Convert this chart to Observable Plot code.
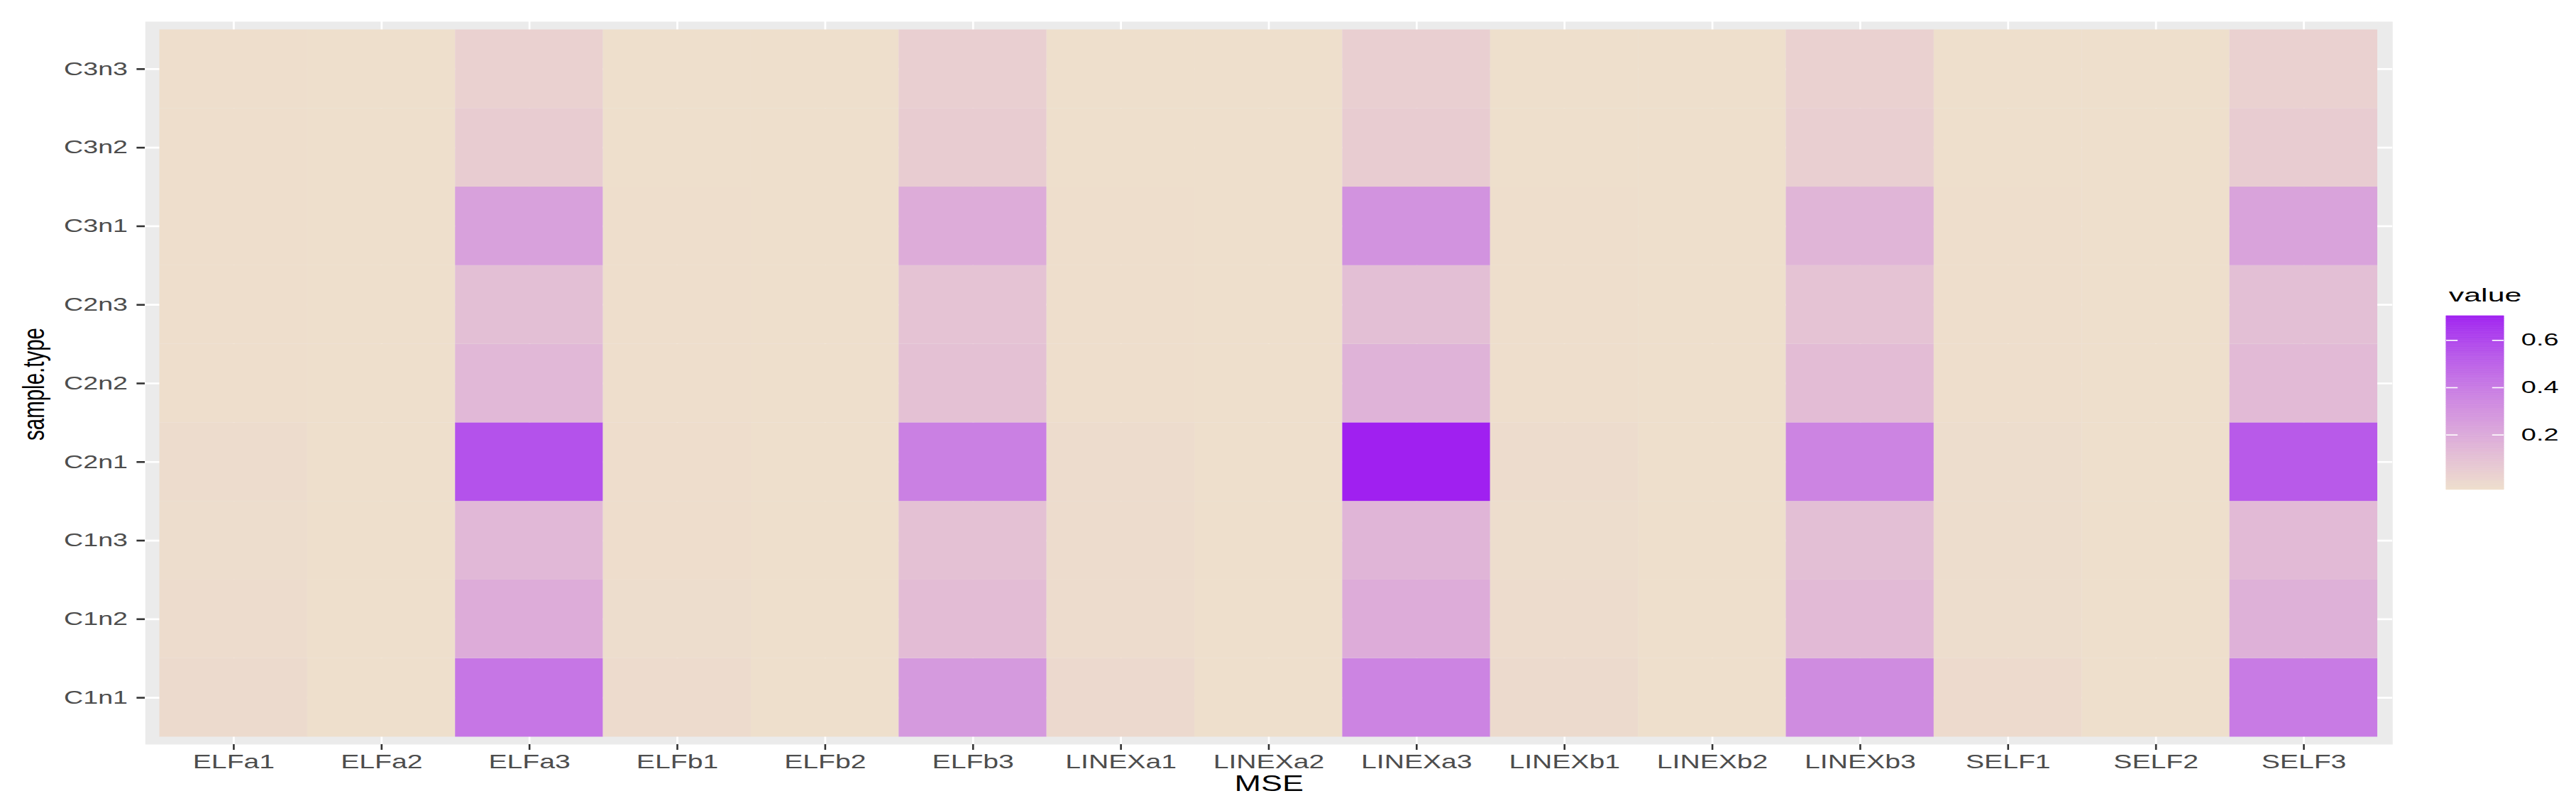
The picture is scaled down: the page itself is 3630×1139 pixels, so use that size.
<!DOCTYPE html>
<html><head><meta charset="utf-8">
<script src="https://cdn.jsdelivr.net/npm/d3@7"></script>
<script src="https://cdn.jsdelivr.net/npm/@observablehq/plot@0.6"></script>
<style>
html,body{margin:0;padding:0;background:#fff;}
#fig{position:relative;width:3630px;height:1139px;overflow:hidden;background:#fff;}
#main{position:absolute;left:0;top:0;transform-origin:0 0;}
#legend{position:absolute;left:3430px;top:380px;transform-origin:0 0;}
svg{overflow:visible;}
</style></head><body><div id="fig"><div id="main"></div><div id="legend"></div></div>
<script>
// ---- data ----
const methods = ["ELFa1","ELFa2","ELFa3","ELFb1","ELFb2","ELFb3","LINEXa1","LINEXa2","LINEXa3","LINEXb1","LINEXb2","LINEXb3","SELF1","SELF2","SELF3"];
const samples = ["C1n1","C1n2","C1n3","C2n1","C2n2","C2n3","C3n1","C3n2","C3n3"];
// values per method, in the order of `samples`
const ELFa1   = [-0.010,-0.020,-0.022,-0.018,-0.026,-0.027,-0.028,-0.029,-0.029];
const ELFa2   = [-0.030,-0.031,-0.031,-0.031,-0.032,-0.032,-0.032,-0.032,-0.032];
const ELFa3   = [0.42,0.19,0.14,0.56,0.14,0.11,0.24,0.05,0.03];
const ELFb1   = [-0.014,-0.022,-0.025,-0.025,-0.028,-0.028,-0.029,-0.030,-0.030];
const ELFb2   = [-0.032,-0.032,-0.032,-0.032,-0.032,-0.032,-0.032,-0.032,-0.032];
const ELFb3   = [0.27,0.12,0.10,0.38,0.10,0.09,0.19,0.05,0.04];
const LINEXa1 = [-0.004,-0.018,-0.020,-0.018,-0.027,-0.028,-0.029,-0.030,-0.030];
const LINEXa2 = [-0.030,-0.031,-0.031,-0.031,-0.031,-0.031,-0.031,-0.031,-0.031];
const LINEXa3 = [0.36,0.19,0.15,0.703,0.16,0.11,0.30,0.05,0.04];
const LINEXb1 = [-0.010,-0.020,-0.022,-0.018,-0.027,-0.028,-0.029,-0.030,-0.030];
const LINEXb2 = [-0.031,-0.031,-0.031,-0.031,-0.031,-0.031,-0.031,-0.031,-0.031];
const LINEXb3 = [0.33,0.13,0.11,0.36,0.12,0.09,0.15,0.04,0.03];
const SELF1   = [-0.012,-0.022,-0.024,-0.022,-0.027,-0.028,-0.029,-0.030,-0.030];
const SELF2   = [-0.031,-0.031,-0.031,-0.031,-0.031,-0.031,-0.031,-0.031,-0.031];
const SELF3   = [0.40,0.17,0.13,0.53,0.13,0.11,0.23,0.05,0.03];
const series = [ELFa1,ELFa2,ELFa3,ELFb1,ELFb2,ELFb3,LINEXa1,LINEXa2,LINEXa3,LINEXb1,LINEXb2,LINEXb3,SELF1,SELF2,SELF3];
const legendTicks = [0.2, 0.4, 0.6];
const xTitle = "MSE", yTitle = "sample.type", legendTitle = "value";

// ---- build table ----
const data = [];
methods.forEach((m, i) => series[i].forEach((v, j) => data.push({method: m, sample: samples[j], value: v})));
const ext = d3.extent(data, d => d.value);

const FONT = "'Liberation Sans', Arial, Helvetica, sans-serif";
const LOW = "#EEDFCC", HIGH = "#A020F0";
const colorOpts = () => ({type: "linear", domain: ext, range: [LOW, HIGH], interpolate: "lab"});

// ---- main panel (drawn narrow, stretched horizontally like the reference) ----
const KM = 1.45;
const sx = v => v / KM;
const W = 3630 / KM;
const H = 1139;
const panelL = sx(204), panelR = sx(3371), tileL = sx(224.5), tileR = sx(3350);
const panelT = 30, panelB = 1049;

const main = Plot.plot({
  width: W, height: H,
  marginLeft: panelL, marginRight: W - panelR, marginTop: panelT, marginBottom: H - panelB,
  style: {fontFamily: FONT, background: "transparent", overflow: "visible"},
  x: {type: "band", domain: methods, padding: 0, round: false, insetLeft: tileL - panelL, insetRight: panelR - tileR},
  y: {type: "band", domain: samples.slice().reverse(), padding: 0, round: false, insetTop: 11.5, insetBottom: 10.5},
  color: colorOpts(),
  marks: [
    Plot.frame({fill: "#EBEBEB", stroke: "none"}),
    Plot.gridX({stroke: "white", strokeOpacity: 1, strokeWidth: 1.9}),
    Plot.gridY({stroke: "white", strokeOpacity: 1, strokeWidth: 2.7}),
    Plot.cell(data, {x: "method", y: "sample", fill: "value"}),
    Plot.axisX({tickSize: 8, tickPadding: 6, fontSize: 27, stroke: "#333333", fill: "#4D4D4D", strokeWidth: 1.8, label: null}),
    Plot.axisY({tickSize: 8, tickPadding: 9, fontSize: 26, stroke: "#333333", fill: "#4D4D4D", strokeWidth: 2.6, label: null}),
    Plot.text([xTitle], {text: d => d, frameAnchor: "bottom", lineAnchor: "top", textAnchor: "middle", dy: 43, fontSize: 31, fill: "black"}),
    Plot.text([yTitle], {text: d => d, frameAnchor: "left", rotate: -90, lineAnchor: "bottom", textAnchor: "middle", dx: sx(61.7) - panelL, dy: 1.5, fontSize: 29.5, fill: "black"})
  ]
});
const mainDiv = document.getElementById("main");
mainDiv.style.transform = `scale(${KM},1)`;
mainDiv.appendChild(main);

// ---- legend (vertical colour bar) ----
const KL = 1.65;
const lw = 200 / KL, lh = 330;
const barL = (3447 - 3430) / KL, barR = (3528 - 3430) / KL;
const labL = (3552 - 3430) / KL;
const nb = 150;
const bins = d3.range(nb).map(i => ({lo: ext[0] + (ext[1] - ext[0]) * i / nb, hi: ext[0] + (ext[1] - ext[0]) * (i + 1) / nb}));
const legend = Plot.plot({
  width: lw, height: lh,
  marginLeft: barL, marginRight: lw - barR, marginTop: 445 - 380, marginBottom: lh - (690 - 380),
  style: {fontFamily: FONT, background: "transparent", overflow: "visible"},
  x: {domain: [0, 1], axis: null},
  y: {domain: ext},
  color: colorOpts(),
  marks: [
    Plot.rect(bins, {x1: 0, x2: 1, y1: "lo", y2: "hi", fill: d => (d.lo + d.hi) / 2, stroke: d => (d.lo + d.hi) / 2, strokeWidth: 0.6}),
    Plot.ruleY(legendTicks, {x1: 0, x2: 0.2, stroke: "white", strokeWidth: 1.6}),
    Plot.ruleY(legendTicks, {x1: 0.8, x2: 1, stroke: "white", strokeWidth: 1.6}),
    Plot.axisY(legendTicks, {anchor: "right", tickSize: 0, tickPadding: labL - barR, tickFormat: d3.format(".1f"), fontSize: 23, fill: "black", label: null}),
    Plot.text([legendTitle], {text: d => d, frameAnchor: "top-left", textAnchor: "start", lineAnchor: "bottom", dx: (3450 - 3447) / KL, dy: 425 - 445, fontSize: 26, fill: "black"})
  ]
});
const legDiv = document.getElementById("legend");
legDiv.style.transform = `scale(${KL},1)`;
legDiv.appendChild(legend);
</script></body></html>
